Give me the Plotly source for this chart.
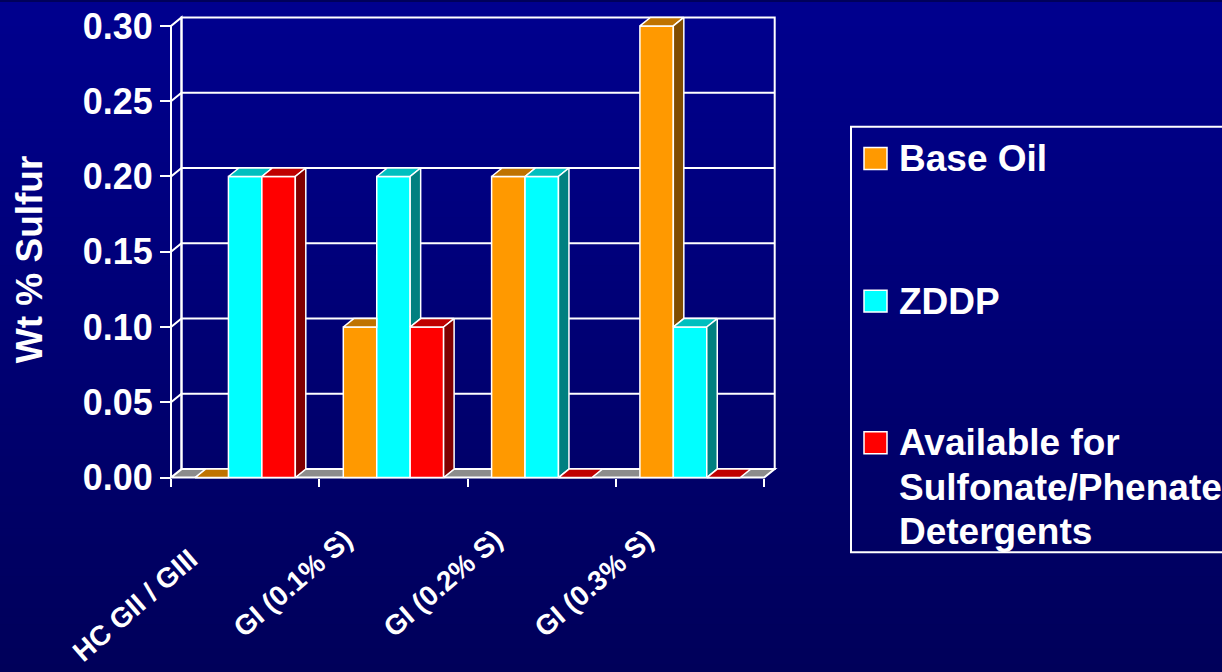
import plotly.graph_objects as go

# ---- data -------------------------------------------------------------
categories = ["HC GII / GIII", "GI (0.1% S)", "GI (0.2% S)", "GI (0.3% S)"]
series_names = ["Base Oil", "ZDDP", "Available for\nSulfonate/Phenate\nDetergents"]
base_oil = [0.00, 0.10, 0.20, 0.30]
zddp = [0.20, 0.20, 0.20, 0.10]
available = [0.20, 0.10, 0.00, 0.00]
y_ticks = [0.00, 0.05, 0.10, 0.15, 0.20, 0.25, 0.30]
y_title = "Wt % Sulfur"

series_values = [base_oil, zddp, available]

# ---- styling / layout constants --------------------------------------
W, H = 1222, 672          # drawing area in pixels
FIG_H = 682               # layout height handed to plotly
FONT = "Liberation Sans, Arial, sans-serif"
front_colors = ["#FF9900", "#00FFFF", "#FF0000"]


def shade(hex_color, f):
    r, g, b = (int(hex_color[i:i + 2], 16) for i in (1, 3, 5))
    return "rgb(%d,%d,%d)" % (round(r * f), round(g * f), round(b * f))


top_colors = [shade(c, 0.75) for c in front_colors]
side_colors = [shade(c, 0.5) for c in front_colors]
FLOOR = "#8C8C8C"
EDGE = "white"

# pixel geometry of the pseudo-3D box
X0_PX, CAT_PX = 171.0, 148.3      # front-left corner, width of one category
Y0_PX, UNIT_PX = 477.0, 1510.0    # front baseline, pixels per 1.0 wt %
DX = 10.5 / CAT_PX                # depth offset in x data units
DY = 8.5 / UNIT_PX                # depth offset in y data units
GAP = 24.0 / CAT_PX               # empty space at each side of a group
n_cat = len(categories)
n_ser = len(series_values)
BW = (1.0 - 2 * GAP) / n_ser      # bar width
Y_TOP = y_ticks[-1]

x_range = [-0.06, n_cat + 0.12]
y_range = [-0.007, 0.312]
x_dom = [(X0_PX + x_range[0] * CAT_PX) / W, (X0_PX + x_range[1] * CAT_PX) / W]
y_dom = [(H - (Y0_PX - y_range[0] * UNIT_PX)) / H, (H - (Y0_PX - y_range[1] * UNIT_PX)) / H]


def py(px_from_top):
    return 1 - px_from_top / H


fig = go.Figure()
shapes = []

# vertical background gradient
N_BANDS = 84
top_rgb, bot_rgb = (0, 0, 142), (0, 0, 90)
for k in range(N_BANDS):
    t = k / (N_BANDS - 1)
    col = "rgb(%d,%d,%d)" % tuple(round(a + (b - a) * t) for a, b in zip(top_rgb, bot_rgb))
    shapes.append(dict(type="rect", xref="paper", yref="paper", layer="below",
                       x0=0, x1=1, y0=1 - (k + 1) / N_BANDS - 0.03 * (k == N_BANDS - 1) - 0.002,
                       y1=1 - k / N_BANDS,
                       fillcolor=col, line=dict(width=0)))

# floor of the box
shapes.append(dict(type="path", xref="x", yref="y", layer="below",
                   path=f"M 0,0 L {n_cat},0 L {n_cat + DX},{DY} L {DX},{DY} Z",
                   fillcolor=FLOOR, line=dict(color=EDGE, width=2)))
# gridlines: side wall diagonal + back wall horizontal
for v in y_ticks[1:-1]:
    shapes.append(dict(type="path", xref="x", yref="y", layer="below",
                       path=f"M 0,{v} L {DX},{v + DY} L {n_cat + DX},{v + DY}",
                       line=dict(color=EDGE, width=2)))
# back wall frame
shapes.append(dict(type="rect", xref="x", yref="y", layer="below",
                   x0=DX, x1=n_cat + DX, y0=DY, y1=Y_TOP + DY,
                   line=dict(color=EDGE, width=2)))
# left side wall frame
shapes.append(dict(type="path", xref="x", yref="y", layer="below",
                   path=f"M 0,0 L 0,{Y_TOP} L {DX},{Y_TOP + DY} L {DX},{DY}",
                   line=dict(color=EDGE, width=2)))

# ---- bars ------------------------------------------------------------
for s, (name, vals) in enumerate(zip(series_names, series_values)):
    xl = [i + GAP + s * BW for i in range(n_cat)]
    fig.add_trace(go.Bar(
        x=[x + BW / 2 for x in xl], y=vals, width=BW, name=name.replace("\n", " "),
        marker=dict(color=front_colors[s], line=dict(color=EDGE, width=1.5)),
        showlegend=False, hoverinfo="skip"))


def face(xs, ys, color):
    fig.add_trace(go.Scatter(
        x=xs + [xs[0]], y=ys + [ys[0]], mode="lines", fill="toself",
        fillcolor=color, line=dict(color=EDGE, width=1.5),
        showlegend=False, hoverinfo="skip"))


# top and side faces of every bar
for i in range(n_cat):
    for s in range(n_ser):
        h = series_values[s][i]
        xl = i + GAP + s * BW
        xr = xl + BW
        h_next = series_values[s + 1][i] if s + 1 < n_ser else 0.0
        # top face (cut where the next, taller bar hides it)
        if h_next > h:
            face([xl, xr, xr, xl + DX], [h, h, h + DY, h + DY], top_colors[s])
        else:
            face([xl, xr, xr + DX, xl + DX], [h, h, h + DY, h + DY], top_colors[s])
        # right side face, visible above the neighbouring bar
        if h > h_next:
            face([xr, xr, xr + DX, xr + DX], [h_next, h, h + DY, h_next + DY], side_colors[s])

# ---- axis titles, category labels and legend ------------------------
annotations = []
annotations.append(dict(text=y_title, textangle=-90, xref="paper", yref="paper",
                        x=29 / W, y=py(258), xanchor="center", yanchor="middle",
                        showarrow=False,
                        font=dict(family=FONT, size=37, color="white", weight="bold")))

label_end_px = [(206, 540), (361, 521), (511, 521), (662, 521)]
for lab, (px, pyy) in zip(categories, label_end_px):
    annotations.append(dict(text=lab, textangle=-41, xref="paper", yref="paper",
                            x=px / W, y=py(pyy), xanchor="right", yanchor="top",
                            showarrow=False,
                            font=dict(family=FONT, size=28, color="white", weight="bold")))

# legend box
LEG_X0, LEG_Y0, LEG_Y1 = 851, 125, 552
shapes.append(dict(type="rect", xref="paper", yref="paper",
                   x0=LEG_X0 / W, x1=1260 / W, y0=py(LEG_Y1), y1=py(LEG_Y0),
                   line=dict(color=EDGE, width=2)))
legend_y_px = [157, 300, 442]
LINE_PX = 44.5
for s, (name, yc) in enumerate(zip(series_names, legend_y_px)):
    shapes.append(dict(type="rect", xref="paper", yref="paper",
                       x0=864 / W, x1=887 / W, y0=py(yc + 11), y1=py(yc - 11),
                       fillcolor=front_colors[s], line=dict(color=EDGE, width=1.5)))
    for k, line in enumerate(name.split("\n")):
        annotations.append(dict(text=line, xref="paper", yref="paper",
                                x=897 / W, y=py(yc + k * LINE_PX),
                                xanchor="left", yanchor="middle", showarrow=False,
                                font=dict(family=FONT, size=37, color="white", weight="bold")))

fig.update_layout(
    width=W, height=FIG_H, autosize=False, margin=dict(l=0, r=0, t=0, b=0, pad=0),
    paper_bgcolor="rgb(0,0,90)", plot_bgcolor="rgba(0,0,0,0)",
    barmode="overlay", showlegend=False,
    shapes=shapes, annotations=annotations,
    xaxis=dict(domain=x_dom, range=x_range, anchor="free", position=(H - Y0_PX) / H,
               tickvals=list(range(n_cat + 1)), showticklabels=False,
               ticks="outside", ticklen=8, tickwidth=2, tickcolor=EDGE,
               showgrid=False, zeroline=False, showline=False, fixedrange=True),
    yaxis=dict(domain=y_dom, range=y_range, anchor="free", position=X0_PX / W,
               tickvals=y_ticks, tickformat=".2f",
               ticks="outside", ticklen=11, tickwidth=2, tickcolor=EDGE,
               tickfont=dict(family=FONT, size=36, color="white", weight="bold"),
               showgrid=False, zeroline=False, showline=False, fixedrange=True),
)

fig.write_html("out.html")
